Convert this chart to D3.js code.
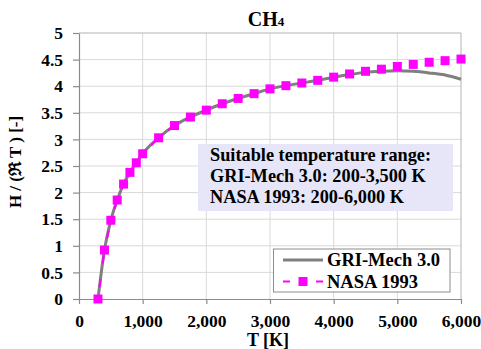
<!DOCTYPE html>
<html>
<head>
<meta charset="utf-8">
<script src="https://cdn.jsdelivr.net/npm/d3@7"></script>
<style>
  body { margin: 0; background: #fff; }
  text { font-family: "Liberation Serif", "Times New Roman", serif; font-weight: bold; fill: #000; }
</style>
</head>
<body>
<script>
// temperatures [K]
const temps = [298.15, 400, 500, 600, 700, 800, 900, 1000, 1250, 1500, 1750, 2000, 2250, 2500,
  2750, 3000, 3250, 3500, 3750, 4000, 4250, 4500, 4750, 5000, 5250, 5500, 5750, 6000];
// H/(RT) NASA 1993
const nasa = [0, 0.92, 1.48, 1.86, 2.16, 2.38, 2.56, 2.73, 3.03, 3.26, 3.42, 3.55, 3.67, 3.77,
  3.86, 3.95, 4.01, 4.06, 4.11, 4.17, 4.23, 4.28, 4.32, 4.37, 4.41, 4.45, 4.48, 4.51];
// H/(RT) GRI-Mech 3.0
const gri = [0, 0.92, 1.48, 1.86, 2.16, 2.38, 2.56, 2.73, 3.03, 3.26, 3.42, 3.55, 3.67, 3.77,
  3.86, 3.95, 4.01, 4.06, 4.11, 4.17, 4.22, 4.26, 4.28, 4.29, 4.28, 4.25, 4.21, 4.13];
const xTicks = [0, 1000, 2000, 3000, 4000, 5000, 6000];
const yTicks = [0, 0.5, 1, 1.5, 2, 2.5, 3, 3.5, 4, 4.5, 5];
const seriesNames = ["GRI-Mech 3.0", "NASA 1993"];
const noteLines = ["Suitable temperature range:", "GRI-Mech 3.0: 200-3,500 K", "NASA 1993: 200-6,000 K"];

var width = 481, height = 349;
var mLeft = 79, mRight = 461, mTop = 33, mBottom = 299;

var svg = d3.select("body").append("svg").attr("width", width).attr("height", height);

var x = d3.scaleLinear().domain([0, 6000]).range([mLeft, mRight]);
var y = d3.scaleLinear().domain([0, 5]).range([mBottom, mTop]);

// grid
svg.append("g").selectAll("line").data(xTicks.slice(1, -1)).enter().append("line")
  .attr("x1", d => x(d)).attr("x2", d => x(d)).attr("y1", mTop).attr("y2", mBottom)
  .attr("stroke", "#d9d9d9").attr("stroke-width", 1);
svg.append("g").selectAll("line").data(yTicks.slice(1, -1)).enter().append("line")
  .attr("x1", mLeft).attr("x2", mRight).attr("y1", d => y(d)).attr("y2", d => y(d))
  .attr("stroke", "#d9d9d9").attr("stroke-width", 1);

// plot border (top & right)
svg.append("path")
  .attr("d", "M" + mLeft + "," + mTop + "H" + mRight + "V" + mBottom)
  .attr("fill", "none").attr("stroke", "#b3b3b3").attr("stroke-width", 1);

// axes
var xAxis = svg.append("g").attr("transform", "translate(0," + mBottom + ")")
  .call(d3.axisBottom(x).tickValues(xTicks).tickFormat(d3.format(",")).tickSizeInner(5).tickSizeOuter(0).tickPadding(11));
var yAxis = svg.append("g").attr("transform", "translate(" + mLeft + ",0)")
  .call(d3.axisLeft(y).tickValues(yTicks).tickFormat(d3.format("")).tickSizeInner(6).tickSizeOuter(0).tickPadding(10));
[xAxis, yAxis].forEach(function (a) {
  a.select(".domain").attr("stroke", "#8c8c8c").attr("stroke-width", 1.2);
  a.selectAll(".tick line").attr("stroke", "#8c8c8c").attr("stroke-width", 1.2);
  a.selectAll(".tick text").attr("font-size", null).attr("font-family", null)
    .style("font-size", "17.5px").attr("fill", "#000");
});

// text box
svg.append("rect").attr("x", 198).attr("y", 144).attr("width", 255).attr("height", 67).attr("fill", "#e6e6f8");
svg.append("g").selectAll("text").data(noteLines).enter().append("text")
  .attr("x", 210).attr("y", (d, i) => 160.5 + i * 21.3)
  .style("font-size", "18.3px").text(d => d);

var pts = temps.map((t, i) => ({ t: t, g: gri[i], n: nasa[i] }));

// GRI line
var lineG = d3.line().x(d => x(d.t)).y(d => y(d.g)).curve(d3.curveMonotoneX);
svg.append("path").datum(pts).attr("d", lineG)
  .attr("fill", "none").attr("stroke", "#7f7f7f").attr("stroke-width", 3);

// NASA dashed line, drawn segment by segment (dash pattern restarts at each marker)
var segs = d3.pairs(pts);
svg.append("g").selectAll("line").data(segs).enter().append("line")
  .attr("x1", d => x(d[0].t)).attr("y1", d => y(d[0].n))
  .attr("x2", d => x(d[1].t)).attr("y2", d => y(d[1].n))
  .attr("stroke", "#ff00ff").attr("stroke-width", 2.2).attr("stroke-dasharray", "0,12,8,4");
svg.append("g").selectAll("rect").data(pts).enter().append("rect")
  .attr("x", d => x(d.t) - 4.5).attr("y", d => y(d.n) - 4.5).attr("width", 9).attr("height", 9)
  .attr("fill", "#ff00ff");

// title
var title = svg.append("text").attr("x", 266).attr("y", 26).attr("text-anchor", "middle").style("font-size", "20px");
title.append("tspan").text("CH");
title.append("tspan").text("4").style("font-size", "13px");

// axis titles
svg.append("text").attr("x", 268).attr("y", 346).attr("text-anchor", "middle").style("font-size", "18px").text("T [K]");
svg.append("text").attr("transform", "translate(21,162) rotate(-90)").attr("text-anchor", "middle")
  .style("font-size", "17px").text("H / (ℜ T ) [-]");

// legend
var lg = svg.append("g");
lg.append("rect").attr("x", 273.5).attr("y", 249).attr("width", 176.5).attr("height", 43)
  .attr("fill", "#fff").attr("stroke", "#8c8c8c").attr("stroke-width", 1);
var legend = lg.selectAll(".legends").data(seriesNames).enter().append("g")
  .attr("transform", (d, i) => "translate(0," + (260 + i * 21.5) + ")");
legend.append("line").attr("x1", 283).attr("x2", 323).attr("y1", 0).attr("y2", 0)
  .attr("stroke", (d, i) => i === 0 ? "#7f7f7f" : "#ff00ff")
  .attr("stroke-width", (d, i) => i === 0 ? 3 : 2.2)
  .attr("stroke-dasharray", (d, i) => i === 0 ? null : "7,26");
legend.filter((d, i) => i === 1).append("rect").attr("x", 298.5).attr("y", -4.5).attr("width", 9).attr("height", 9).attr("fill", "#ff00ff");
legend.append("text").attr("x", 327).attr("y", 6).style("font-size", "18.5px").text(d => d);
</script>
</body>
</html>
